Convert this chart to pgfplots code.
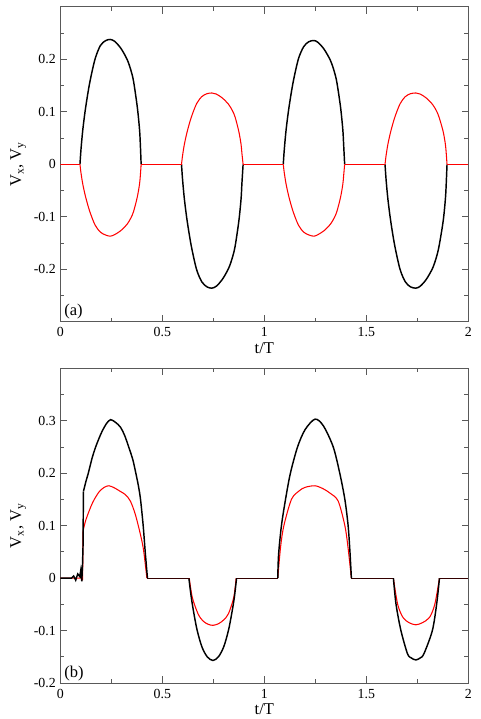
\documentclass[border=0pt]{standalone}
\usepackage{pgfplots}
\pgfplotsset{compat=1.18}
\usepackage{fontspec}
\setmainfont{Liberation Serif}

\begin{document}
\begin{tikzpicture}
\tikzset{lab/.style={anchor=south west, inner sep=1.5pt, font=\fontsize{12.5}{14}\selectfont}}
\pgfplotsset{
  panel/.style={
    width=309pt, height=238.5pt, scale only axis,
    xmin=0, xmax=2,
    xtick={0,0.5,1,1.5,2}, xticklabels={0,0.5,1,1.5,2},
    minor xtick={0.25,0.75,1.25,1.75},
    tick align=inside, xtick pos=both, ytick pos=both,
    major tick length=5pt, minor tick length=3pt,
    axis line style={black!65, line width=0.8pt},
    every tick/.style={black!65, line width=0.6pt},
    tick label style={font=\fontsize{10.5}{12}\selectfont},
    label style={font=\fontsize{12.5}{14}\selectfont},
    xticklabel style={yshift=-1pt},
    xlabel={t/T},
    xlabel style={yshift=3pt},
    ylabel={V\textsubscript{x}, V\textsubscript{y}},
    ylabel style={yshift=-1pt},
    unbounded coords=jump,
  },
  vx/.style={black, line width=1.1pt, smooth},
  vy/.style={red, line width=0.8pt, smooth},
}

% (a)
\begin{axis}[panel,
  ymin=-0.3, ymax=0.3,
  ytick={-0.2,-0.1,0,0.1,0.2}, yticklabels={-0.2,-0.1,0,0.1,0.2},
  minor ytick={-0.25,-0.15,-0.05,0.05,0.15,0.25},
]
\addplot[vx] coordinates {(0.096,0)(0.101,0.0283)(0.110,0.0661)(0.124,0.1086)(0.144,0.1558)(0.170,0.2006)(0.196,0.2262)(0.221,0.2356)(0.244,0.238)(0.266,0.2345)(0.296,0.2215)(0.327,0.2002)(0.346,0.179)(0.359,0.1578)(0.377,0.1096)(0.388,0.0671)(0.392,0.0388)(0.396,0)};
\addplot[vx] coordinates {(0.594,0)(0.599,-0.0283)(0.608,-0.0661)(0.622,-0.1086)(0.642,-0.1558)(0.668,-0.2006)(0.694,-0.2242)(0.719,-0.2336)(0.742,-0.236)(0.764,-0.2325)(0.794,-0.2195)(0.825,-0.1982)(0.844,-0.177)(0.857,-0.1558)(0.875,-0.1086)(0.886,-0.0661)(0.890,-0.0378)(0.896,0)};
\addplot[vx] coordinates {(1.093,0)(1.098,0.0283)(1.107,0.0661)(1.121,0.1086)(1.141,0.1558)(1.167,0.2006)(1.193,0.2242)(1.218,0.2336)(1.243,0.236)(1.263,0.2325)(1.293,0.2195)(1.324,0.1982)(1.343,0.177)(1.356,0.1558)(1.374,0.1086)(1.385,0.0661)(1.389,0.0378)(1.394,0)};
\addplot[vx] coordinates {(1.592,0)(1.597,-0.0283)(1.606,-0.0661)(1.620,-0.1086)(1.640,-0.1558)(1.666,-0.2006)(1.692,-0.2242)(1.717,-0.2336)(1.743,-0.236)(1.764,-0.2325)(1.794,-0.2195)(1.825,-0.1982)(1.844,-0.177)(1.857,-0.1558)(1.877,-0.1086)(1.888,-0.0661)(1.892,-0.0378)(1.896,0)};
\addplot[red, line width=0.8pt] coordinates {(0,0)(0.096,0)(0.2,nan)(0.396,0)(0.594,0)(0.7,nan)(0.896,0)(1.093,0)(1.2,nan)(1.394,0)(1.592,0)(1.7,nan)(1.896,0)(2,0)};
\addplot[vy] coordinates {(0.096,0)(0.101,-0.0163)(0.110,-0.0381)(0.124,-0.0626)(0.144,-0.0898)(0.170,-0.1156)(0.196,-0.1292)(0.221,-0.1346)(0.244,-0.137)(0.266,-0.134)(0.296,-0.1265)(0.327,-0.1142)(0.346,-0.102)(0.359,-0.0898)(0.377,-0.0626)(0.388,-0.0381)(0.392,-0.0218)(0.396,0)};
\addplot[vy] coordinates {(0.594,0)(0.599,0.0163)(0.608,0.0381)(0.622,0.0626)(0.642,0.0898)(0.668,0.1156)(0.694,0.1292)(0.719,0.1346)(0.743,0.136)(0.764,0.134)(0.794,0.1265)(0.825,0.1142)(0.844,0.102)(0.857,0.0898)(0.875,0.0626)(0.886,0.0381)(0.890,0.0218)(0.896,0)};
\addplot[vy] coordinates {(1.093,0)(1.098,-0.0163)(1.107,-0.0381)(1.121,-0.0626)(1.141,-0.0898)(1.167,-0.1156)(1.193,-0.1292)(1.218,-0.1346)(1.243,-0.137)(1.263,-0.134)(1.293,-0.1265)(1.324,-0.1142)(1.343,-0.102)(1.356,-0.0898)(1.374,-0.0626)(1.385,-0.0381)(1.389,-0.0218)(1.394,0)};
\addplot[vy] coordinates {(1.592,0)(1.597,0.0163)(1.606,0.0381)(1.620,0.0626)(1.640,0.0898)(1.666,0.1156)(1.692,0.1292)(1.717,0.1346)(1.743,0.136)(1.764,0.134)(1.794,0.1265)(1.825,0.1142)(1.844,0.102)(1.857,0.0898)(1.877,0.0626)(1.888,0.0381)(1.892,0.0218)(1.896,0)};
\node[lab] at (rel axis cs:0.004,0.0) {(a)};
\end{axis}

% (b)
\begin{axis}[panel, at={(0,-273.75pt)},
  ymin=-0.2, ymax=0.4,
  ytick={-0.2,-0.1,0,0.1,0.2,0.3}, yticklabels={-0.2,-0.1,0,0.1,0.2,0.3},
  minor ytick={-0.15,-0.05,0.05,0.15,0.25,0.35},
]
\addplot[red, line width=0.8pt] coordinates {(0,0)(0.107,0)(0.109,-0.004)(0.111,0.089)};
\addplot[vy] coordinates {(0.111,0.089)(0.125,0.111)(0.157,0.143)(0.189,0.164)(0.215,0.173)(0.238,0.176)(0.265,0.172)(0.295,0.165)(0.319,0.159)(0.343,0.147)(0.367,0.122)(0.392,0.084)(0.408,0.053)(0.424,0)};
\addplot[vy] coordinates {(0.632,0)(0.647,-0.037)(0.675,-0.068)(0.700,-0.082)(0.725,-0.088)(0.748,-0.090)(0.775,-0.087)(0.800,-0.080)(0.824,-0.068)(0.850,-0.037)(0.862,0)};
\addplot[vy] coordinates {(1.066,0)(1.080,0.06)(1.096,0.1)(1.133,0.15)(1.170,0.166)(1.200,0.173)(1.249,0.176)(1.290,0.170)(1.322,0.162)(1.362,0.147)(1.395,0.1)(1.410,0.06)(1.427,0)};
\addplot[vy] coordinates {(1.633,0)(1.654,-0.05)(1.680,-0.075)(1.710,-0.085)(1.743,-0.089)(1.775,-0.085)(1.810,-0.075)(1.836,-0.05)(1.859,0)};
\addplot[black, line width=1.1pt] coordinates {(0,0)(0.055,0)(0.065,0.004)(0.075,-0.004)(0.085,0.008)(0.095,0.003)(0.100,0.015)(0.105,-0.006)(0.108,0.02)(0.111,0.06)(0.113,0.165)};
\addplot[vx] coordinates {(0.113,0.165)(0.125,0.184)(0.137,0.2)(0.155,0.228)(0.173,0.25)(0.200,0.276)(0.225,0.294)(0.246,0.302)(0.270,0.297)(0.294,0.288)(0.315,0.272)(0.335,0.25)(0.355,0.226)(0.370,0.2)(0.383,0.175)(0.393,0.15)(0.406,0.1)(0.416,0.05)(0.427,0)};
\addplot[vx] coordinates {(0.630,0)(0.642,-0.037)(0.655,-0.068)(0.671,-0.1)(0.694,-0.131)(0.720,-0.150)(0.748,-0.157)(0.775,-0.150)(0.801,-0.131)(0.824,-0.1)(0.840,-0.068)(0.853,-0.037)(0.864,0)};
\addplot[vx] coordinates {(1.066,0)(1.070,0.045)(1.084,0.1)(1.104,0.15)(1.128,0.2)(1.163,0.25)(1.200,0.283)(1.249,0.303)(1.290,0.290)(1.338,0.25)(1.370,0.2)(1.395,0.15)(1.411,0.1)(1.420,0.05)(1.427,0)};
\addplot[vx] coordinates {(1.633,0)(1.646,-0.05)(1.670,-0.1)(1.702,-0.144)(1.720,-0.152)(1.743,-0.156)(1.765,-0.152)(1.783,-0.144)(1.824,-0.1)(1.845,-0.05)(1.859,0)};
\addplot[black!80!red, line width=0.8pt] coordinates {(0.427,0)(0.630,0)(0.75,nan)(0.864,0)(1.066,0)(1.2,nan)(1.427,0)(1.633,0)(1.75,nan)(1.859,0)(2,0)};
\node[lab] at (rel axis cs:0.004,0.0) {(b)};
\end{axis}

\pgfresetboundingbox
\useasboundingbox (-45.75pt,-301pt) rectangle (318pt,243.75pt);
\end{tikzpicture}
\end{document}
